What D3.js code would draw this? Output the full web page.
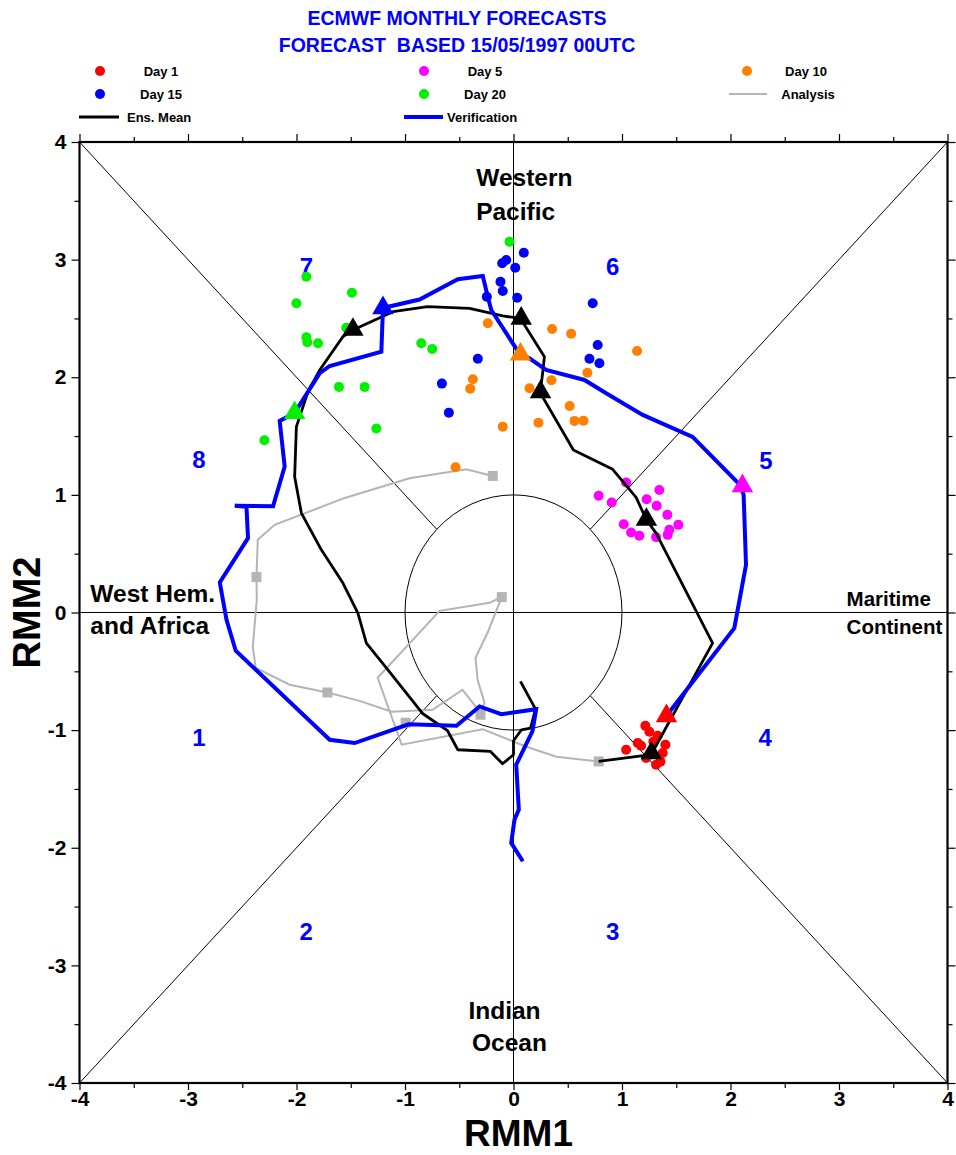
<!DOCTYPE html>
<html lang="en">
<head>
    <meta charset="UTF-8">
    <title>ECMWF MJO phase diagram</title>
    <script src="https://d3js.org/d3.v7.min.js"></script>
    <style>
        body { margin: 0; background: #fff; }
        text { font-family: "Liberation Sans", Arial, sans-serif; font-weight: bold; }
    </style>
</head>
<body>
<div id="chart"></div>
<script>
    // ---- data (RMM1, RMM2) ----
    const titleLines = ["ECMWF MONTHLY FORECASTS", "FORECAST  BASED 15/05/1997 00UTC"];

    const day1Pts = [[1.215, -0.963], [1.038, -1.167], [1.145, -1.11], [1.329, -1.048], [1.40, -1.124],
        [1.375, -1.195], [1.314, -1.294], [1.222, -1.237], [1.176, -1.133], [1.289, -1.096], [1.252, -1.014], [1.354, -1.268]];
    const day5Pts = [[1.038, 1.105], [0.785, 0.992], [0.905, 0.935], [1.344, 1.042], [1.227, 0.963], [1.32, 0.907],
        [1.418, 0.83], [1.016, 0.751], [1.084, 0.68], [1.16, 0.652], [1.314, 0.641], [1.436, 0.703], [1.421, 0.66], [1.519, 0.745]];
    const day10Pts = [[-0.237, 2.459], [0.356, 2.41], [0.531, 2.37], [1.139, 2.223], [0.681, 2.039], [0.35, 1.974],
        [0.147, 1.906], [-0.375, 1.983], [-0.399, 1.903], [0.518, 1.756], [0.562, 1.629], [0.645, 1.631],
        [0.23, 1.614], [-0.099, 1.58], [-0.534, 1.235]];
    const day15Pts = [[0.095, 3.059], [-0.067, 2.997], [-0.104, 2.969], [0.016, 2.931], [-0.12, 2.812], [-0.099, 2.733],
        [-0.246, 2.685], [0.034, 2.676], [0.73, 2.629], [-0.329, 2.158], [0.776, 2.274], [0.70, 2.158], [0.792, 2.119],
        [-0.66, 1.946], [-0.596, 1.699]];
    const day20Pts = [[-0.037, 3.152], [-1.909, 2.855], [-1.489, 2.719], [-2.001, 2.629], [-1.541, 2.421], [-1.909, 2.34],
        [-1.90, 2.297], [-1.802, 2.289], [-0.85, 2.289], [-0.749, 2.24], [-1.609, 1.918], [-1.372, 1.918],
        [-1.264, 1.564], [-2.296, 1.465]];

    const ensMean = [[0.785, -1.266], [1.268, -1.209], [1.835, -0.26], [1.314, 0.675], [1.225, 0.788], [1.13, 0.979],
        [0.914, 1.217], [0.552, 1.382], [0.285, 1.807], [0.246, 1.866], [0.27, 2.048], [0.285, 2.175], [0.178, 2.331],
        [0.064, 2.50], [-0.099, 2.521], [-0.405, 2.586], [-0.792, 2.60], [-1.111, 2.557], [-1.48, 2.402], [-1.572, 2.345],
        [-1.786, 2.062], [-1.894, 1.878], [-2.001, 1.58], [-2.017, 1.155], [-1.955, 0.845], [-1.771, 0.533],
        [-1.572, 0.25], [-1.434, -0.005], [-1.356, -0.26], [-1.172, -0.47], [-0.835, -0.861], [-0.608, -1.005],
        [-0.513, -1.167], [-0.212, -1.181], [-0.101, -1.286], [0.0, -1.209], [0.0, -1.09], [0.074, -0.997],
        [0.157, -0.982], [0.203, -0.822], [0.064, -0.586]];
    const ensMarks = [[1.271, -1.195], [1.225, 0.79], [0.249, 1.875], [0.071, 2.50], [-1.48, 2.405]];

    const verification = [[1.41, -0.878], [2.035, -0.133], [2.143, 0.405], [2.121, 1.0], [2.087, 1.085], [1.651, 1.493],
        [1.191, 1.68], [0.854, 1.864], [0.654, 1.977], [0.301, 2.062], [0.147, 2.161], [0.062, 2.19], [-0.205, 2.572],
        [-0.237, 2.685], [-0.283, 2.861], [-0.513, 2.833], [-0.866, 2.661], [-1.203, 2.589], [-1.218, 2.218],
        [-1.694, 2.096], [-1.786, 2.034], [-2.017, 1.697], [-2.155, 1.629], [-2.109, 1.24], [-2.216, 0.904],
        [-2.569, 0.907], [-2.461, 0.898], [-2.447, 0.632], [-2.707, 0.255], [-2.645, -0.062], [-2.56, -0.325],
        [-1.694, -1.082], [-1.464, -1.11], [-0.967, -0.95], [-0.525, -0.963], [-0.313, -0.799], [-0.113, -0.865],
        [0.209, -0.822], [0.175, -1.009], [0.025, -1.294], [0.049, -1.676], [0.009, -1.761], [-0.021, -1.959], [0.086, -2.115]];
    const verMarks = [[1.41, -0.88], [2.11, 1.076], [0.064, 2.195], [-1.203, 2.589], [-2.017, 1.697]];

    const analysis = [[0.785, -1.266], [0.396, -1.226], [0.12, -1.141], [-0.285, -0.992], [-1.031, -1.124],
        [-1.252, -0.555], [-0.681, 0.014], [-0.221, 0.082], [-0.108, 0.131], [-0.239, -0.172], [-0.35, -0.385],
        [-0.331, -0.572], [-0.267, -0.767], [-0.304, -0.852], [-0.47, -0.657], [-0.746, -0.827], [-1.123, -0.844],
        [-1.418, -0.751], [-1.715, -0.68], [-2.063, -0.614], [-2.376, -0.47], [-2.403, -0.291], [-2.366, 0.108],
        [-2.369, 0.301], [-2.357, 0.618], [-2.201, 0.745], [-1.556, 0.974], [-0.958, 1.142], [-0.436, 1.217], [-0.191, 1.161]];
    const analysisMarks = [[0.785, -1.266], [-0.108, 0.131], [-0.304, -0.869], [-0.994, -0.937], [-1.715, -0.68],
        [-2.369, 0.301], [-0.191, 1.161]];

    const phaseNames = ["1", "2", "3", "4", "5", "6", "7", "8"];
    const phasePos = [[-2.9, -1.06], [-1.91, -2.71], [0.915, -2.71], [2.32, -1.06], [2.327, 1.293], [0.915, 2.945],
        [-1.909, 2.945], [-2.9, 1.30]];

    const regionText = ["Western", "Pacific", "West Hem.", "and Africa", "Maritime", "Continent", "Indian", "Ocean"];

    const ticks = [-4, -3, -2, -1, 0, 1, 2, 3, 4];
    const minorTicks = [-3.5, -2.5, -1.5, -0.5, 0.5, 1.5, 2.5, 3.5];

    // ---- setup ----
    const svg = d3.select("#chart").append("svg")
        .attr("width", 956)
        .attr("height", 1155);

    const x = d3.scaleLinear().domain([-4, 4]).range([79.5, 947.5]);
    const y = d3.scaleLinear().domain([-4, 4]).range([1083, 142]);

    const colors = {d1: "#ff0000", d5: "#ff00ff", d10: "#ff8000", d15: "#0000ff", d20: "#00f000"};

    // titles
    titleLines.forEach((t, i) => {
        svg.append("text")
            .attr("x", 457).attr("y", 25 + i * 27)
            .attr("text-anchor", "middle")
            .attr("font-size", 19.5)
            .attr("fill", "#0000ff")
            .style("white-space", "pre")
            .text(t);
    });

    // legend --------------------------------------------------
    const legendDots = [
        {c: colors.d1, t: "Day 1", cx: 100, tx: 161, y: 71},
        {c: colors.d5, t: "Day 5", cx: 424, tx: 485, y: 71},
        {c: colors.d10, t: "Day 10", cx: 747, tx: 806, y: 71},
        {c: colors.d15, t: "Day 15", cx: 100, tx: 161, y: 94},
        {c: colors.d20, t: "Day 20", cx: 424, tx: 485, y: 94}
    ];
    legendDots.forEach(d => {
        svg.append("circle").attr("cx", d.cx).attr("cy", d.y).attr("r", 5).attr("fill", d.c);
        svg.append("text").attr("x", d.tx).attr("y", d.y + 5)
            .attr("text-anchor", "middle").attr("font-size", 13).text(d.t);
    });
    const legendLines = [
        {c: "#b4b4b4", w: 2, x1: 729, x2: 767, y: 94, t: "Analysis", tx: 808, anchor: "middle"},
        {c: "#000000", w: 3, x1: 79, x2: 119, y: 117, t: "Ens. Mean", tx: 127, anchor: "start"},
        {c: "#0000ff", w: 4, x1: 404, x2: 443, y: 117, t: "Verification", tx: 447, anchor: "start"}
    ];
    legendLines.forEach(d => {
        svg.append("line").attr("x1", d.x1).attr("x2", d.x2).attr("y1", d.y).attr("y2", d.y)
            .attr("stroke", d.c).attr("stroke-width", d.w);
        svg.append("text").attr("x", d.tx).attr("y", d.y + 5)
            .attr("text-anchor", d.anchor).attr("font-size", 13).text(d.t);
    });

    // frame guides: diagonals, axes, unit circle ---------------
    const r = Math.SQRT1_2;
    [[-4, -4, -r, -r], [r, r, 4, 4], [-4, 4, -r, r], [r, -r, 4, -4], [-4, 0, 4, 0], [0, -4, 0, 4]].forEach(s => {
        svg.append("line")
            .attr("x1", x(s[0])).attr("y1", y(s[1]))
            .attr("x2", x(s[2])).attr("y2", y(s[3]))
            .attr("stroke", "#000").attr("stroke-width", 1);
    });
    svg.append("ellipse")
        .attr("cx", x(0)).attr("cy", y(0))
        .attr("rx", x(1) - x(0)).attr("ry", y(0) - y(1))
        .attr("fill", "none").attr("stroke", "#000").attr("stroke-width", 1);

    // phase numbers and regions
    phaseNames.forEach((p, i) => {
        svg.append("text")
            .attr("x", x(phasePos[i][0])).attr("y", y(phasePos[i][1]))
            .attr("dy", "0.36em")
            .attr("text-anchor", "middle")
            .attr("font-size", 24)
            .attr("fill", "#0000ff")
            .text(p);
    });
    const regionPos = [[0.10, 3.625, "middle"], [0.02, 3.336, "middle"], [-3.90, 0.091, "start"], [-3.90, -0.181, "start"],
        [3.07, 0.057, "start"], [3.07, -0.181, "start"], [-0.083, -3.452, "middle"], [-0.037, -3.724, "middle"]];
    regionText.forEach((t, i) => {
        svg.append("text")
            .attr("x", x(regionPos[i][0])).attr("y", y(regionPos[i][1]))
            .attr("text-anchor", regionPos[i][2])
            .attr("font-size", (i === 4 || i === 5) ? 20.5 : 24.5)
            .text(t);
    });

    // analysis ------------------------------------------------
    const line = d3.line().x(d => x(d[0])).y(d => y(d[1]));
    svg.append("path").attr("d", line(analysis))
        .attr("fill", "none").attr("stroke", "#b4b4b4").attr("stroke-width", 2);
    svg.selectAll("rect.ana").data(analysisMarks).join("rect")
        .attr("class", "ana")
        .attr("x", d => x(d[0]) - 5).attr("y", d => y(d[1]) - 5)
        .attr("width", 10).attr("height", 10)
        .attr("fill", "#b4b4b4");

    // ensemble members
    [[day1Pts, colors.d1], [day5Pts, colors.d5], [day10Pts, colors.d10], [day15Pts, colors.d15], [day20Pts, colors.d20]]
        .forEach(([pts, c]) => {
            pts.forEach(d => {
                svg.append("circle")
                    .attr("cx", x(d[0])).attr("cy", y(d[1]))
                    .attr("r", 5).attr("fill", c);
            });
        });

    // ensemble mean and verification
    svg.append("path").attr("d", line(ensMean))
        .attr("fill", "none").attr("stroke", "#000").attr("stroke-width", 2.8)
        .attr("stroke-linejoin", "round");
    svg.append("path").attr("d", line(verification))
        .attr("fill", "none").attr("stroke", "#0000ff").attr("stroke-width", 4);

    const tri = d3.symbol().type(d3.symbolTriangle).size(200);
    const markColors = [colors.d1, colors.d5, colors.d10, colors.d15, colors.d20];
    ensMarks.forEach(d => {
        svg.append("path").attr("d", tri())
            .attr("transform", `translate(${x(d[0])},${y(d[1])})`)
            .attr("fill", "#000");
    });
    verMarks.forEach((d, i) => {
        svg.append("path").attr("d", tri())
            .attr("transform", `translate(${x(d[0])},${y(d[1])})`)
            .attr("fill", markColors[i]);
    });

    // border and axes -----------------------------------------
    svg.append("rect")
        .attr("x", x(-4)).attr("y", y(4))
        .attr("width", x(4) - x(-4)).attr("height", y(-4) - y(4))
        .attr("fill", "none").attr("stroke", "#000").attr("stroke-width", 2.2);

    function addAxis(axisFn, scale, transform, labels, size) {
        const g = svg.append("g").attr("transform", transform)
            .call(axisFn(scale).tickValues(ticks).tickSize(size).tickPadding(axisFn === d3.axisBottom ? 1 : 5)
                .tickFormat(labels ? (d => String(d)) : ""));
        g.select(".domain").remove();
        g.selectAll("line").attr("stroke-width", 1.2);
        g.selectAll("text").attr("font-size", 21).attr("font-family", "Liberation Sans, Arial, sans-serif")
            .attr("font-weight", "bold").attr("fill", "#000");
        const m = svg.append("g").attr("transform", transform)
            .call(axisFn(scale).tickValues(minorTicks).tickSize(5).tickFormat(""));
        m.select(".domain").remove();
        m.selectAll("line").attr("stroke-width", 1.2);
    }
    addAxis(d3.axisLeft, y, `translate(${x(-4)},0)`, true, 8);
    addAxis(d3.axisRight, y, `translate(${x(4)},0)`, false, 8);
    addAxis(d3.axisBottom, x, `translate(0,${y(-4)})`, true, 7);
    addAxis(d3.axisTop, x, `translate(0,${y(4)})`, false, 8);

    // axis titles
    svg.append("text")
        .attr("x", x(0) + 5).attr("y", 1146)
        .attr("text-anchor", "middle")
        .attr("font-size", 37)
        .text("RMM1");
    svg.append("text")
        .attr("transform", `translate(40,${y(0)}) rotate(-90)`)
        .attr("text-anchor", "middle")
        .attr("font-size", 38)
        .text("RMM2");
</script>
</body>
</html>
